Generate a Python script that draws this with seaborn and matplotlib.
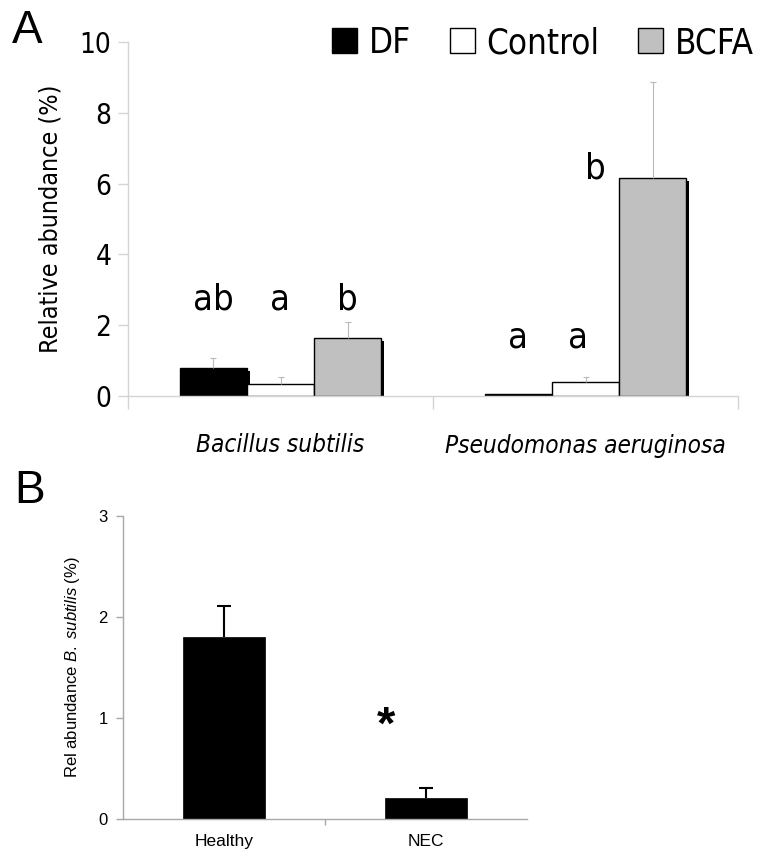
import numpy as np
import pandas as pd
import matplotlib
matplotlib.use("Agg")
import matplotlib.pyplot as plt
import matplotlib.patheffects as pe
import seaborn as sns

# ---------------- data ----------------
species = ["Bacillus subtilis", "Pseudomonas aeruginosa"]
groups = ["DF", "Control", "BCFA"]
df_vals = [0.79, 0.06]
control_vals = [0.33, 0.40]
bcfa_vals = [1.63, 6.15]
df_err = [0.28, 0.0]
control_err = [0.20, 0.15]
bcfa_err = [0.47, 2.71]
letters = [["ab", "a", "b"], ["a", "a", "b"]]

conditions = ["Healthy", "NEC"]
cond_vals = [1.80, 0.21]
cond_err = [0.31, 0.10]

# ---------------- style ----------------
sns.set_theme(style="white")
narrow = ["DejaVu Sans", "Liberation Sans"]
wide = ["Liberation Sans", "DejaVu Sans"]
plt.rcParams["font.family"] = narrow
plt.rcParams["font.stretch"] = "condensed"
for k in ["text.color", "axes.labelcolor", "xtick.color", "ytick.color"]:
    plt.rcParams[k] = "black"
plt.rcParams["mathtext.fontset"] = "custom"
plt.rcParams["mathtext.rm"] = "Liberation Sans"
plt.rcParams["mathtext.it"] = "Liberation Sans:italic"

W, H = 761, 858
fig = plt.figure(figsize=(W / 100, H / 100), dpi=100)
fig.patch.set_facecolor("white")

def px_axes(l, t, r, b):
    return fig.add_axes([l / W, 1 - b / H, (r - l) / W, (b - t) / H])

def upper_errorbars(ax, xs, ys, es, **kw):
    eb = ax.errorbar(xs, ys, yerr=[np.zeros(len(es)), es], fmt="none", **kw)
    for cl in eb[1]:
        if np.allclose(cl.get_ydata(), ys):
            cl.set_visible(False)
    return eb

# ---------------- panel A ----------------
axA = px_axes(128, 42, 738, 396)
rows = []
for i, sp in enumerate(species):
    for g, vals in zip(groups, [df_vals, control_vals, bcfa_vals]):
        rows.append({"species": sp, "group": g, "value": vals[i]})
dfA = pd.DataFrame(rows)
palA = {"DF": "black", "Control": "white", "BCFA": "#c0c0c0"}
sns.barplot(data=dfA, x="species", y="value", hue="group", order=species,
            hue_order=groups, palette=palA, width=0.66, edgecolor="black",
            linewidth=1.0, saturation=1, errorbar=None, ax=axA)

shadow = [pe.SimplePatchShadow(offset=(2.3, -2.3), shadow_rgbFace="black", alpha=1.0),
          pe.Normal()]
errsA = [df_err, control_err, bcfa_err]
letter_dx = [[0.0, 0.0, 0.0], [0.0, -0.025, -0.187]]
letter_y = [[2.43, 2.43, 2.43], [1.38, 1.38, 6.15]]
bar_containers = list(axA.containers)
for gi, cont in enumerate(bar_containers):
    xs, ys, es = [], [], []
    for si, p in enumerate(cont.patches):
        p.set_path_effects(shadow)
        xc = p.get_x() + p.get_width() / 2
        if errsA[gi][si] > 0:
            xs.append(xc); ys.append(p.get_height()); es.append(errsA[gi][si])
        axA.text(xc + letter_dx[si][gi], letter_y[si][gi], letters[si][gi],
                 ha="center", va="baseline", fontsize=26)
    if xs:
        upper_errorbars(axA, xs, ys, es, ecolor="#b8b8b8", elinewidth=0.8,
                        capsize=2.5, capthick=0.8)

leg = axA.get_legend()
handles = leg.legend_handles
labels = [t.get_text() for t in leg.get_texts()]
leg.remove()
fig.legend(handles, labels, loc="upper right", bbox_to_anchor=(754 / W, 1 - 26 / H),
           ncol=3, frameon=False, fontsize=25, handlelength=0.72, handleheight=0.72,
           handletextpad=0.35, columnspacing=1.1, borderpad=0, borderaxespad=0)

axA.set_xlim(-0.5, 1.5)
axA.set_ylim(0, 10)
axA.set_yticks([0, 2, 4, 6, 8, 10])
axA.set_xlabel("")
axA.set_ylabel("Relative abundance (%)", fontsize=18, labelpad=12)
for s in ["top", "right"]:
    axA.spines[s].set_visible(False)
for s in ["left", "bottom"]:
    axA.spines[s].set_color("#d4d4d4")
    axA.spines[s].set_linewidth(1.0)
axA.tick_params(axis="y", direction="out", length=7, width=1, color="#d4d4d4",
                labelsize=20, pad=5, left=True)
axA.set_xticks([-0.5, 0.5, 1.5], minor=True)
axA.tick_params(axis="x", which="major", length=0, labelsize=17.5, pad=27)
axA.tick_params(axis="x", which="minor", direction="out", length=9, width=1,
                color="#d4d4d4", bottom=True)
for t in axA.get_xticklabels():
    t.set_fontstyle("italic")

fig.text(12 / W, 1 - 43 / H, "A", fontsize=33, family=wide, stretch="normal",
         va="baseline")

# ---------------- panel B ----------------
axB = px_axes(123, 516, 527, 819)
dfB = pd.DataFrame({"condition": conditions, "value": cond_vals})
sns.barplot(data=dfB, x="condition", y="value", order=conditions, color="black",
            saturation=1, width=0.405, errorbar=None, edgecolor="black",
            linewidth=0.5, ax=axB)
cont = axB.containers[0]
xb = [p.get_x() + p.get_width() / 2 for p in cont.patches]
yb = [p.get_height() for p in cont.patches]
upper_errorbars(axB, xb, yb, cond_err, ecolor="black", elinewidth=1.5,
                capsize=4.8, capthick=1.5)
axB.text(xb[1] - 0.2, 0.91, "*", fontsize=34, fontweight="bold", family=wide,
         stretch="normal", ha="center", va="center")

axB.set_xlim(-0.5, 1.5)
axB.set_ylim(0, 3)
axB.set_yticks([0, 1, 2, 3])
axB.set_xlabel("")
axB.set_ylabel(r"Rel abundance $\mathit{B.\ subtilis}$ (%)", fontsize=12,
               family=wide, stretch="normal", labelpad=12)
for s in ["top", "right"]:
    axB.spines[s].set_visible(False)
for s in ["left", "bottom"]:
    axB.spines[s].set_color("#a8a8a8")
    axB.spines[s].set_linewidth(1.0)
axB.tick_params(axis="y", direction="out", length=5, width=1, color="#a8a8a8",
                labelsize=12, pad=6, left=True)
axB.set_xticks([0.5], minor=True)
axB.tick_params(axis="x", which="major", length=0, labelsize=12.5, pad=11)
axB.tick_params(axis="x", which="minor", direction="out", length=4, width=1,
                color="#a8a8a8", bottom=True)
for t in axB.get_xticklabels() + axB.get_yticklabels():
    t.set_family(wide)
    t.set_stretch("normal")

fig.text(14 / W, 1 - 503 / H, "B", fontsize=33, family=wide, stretch="normal",
         va="baseline")

fig.savefig("out.png", dpi=100)
